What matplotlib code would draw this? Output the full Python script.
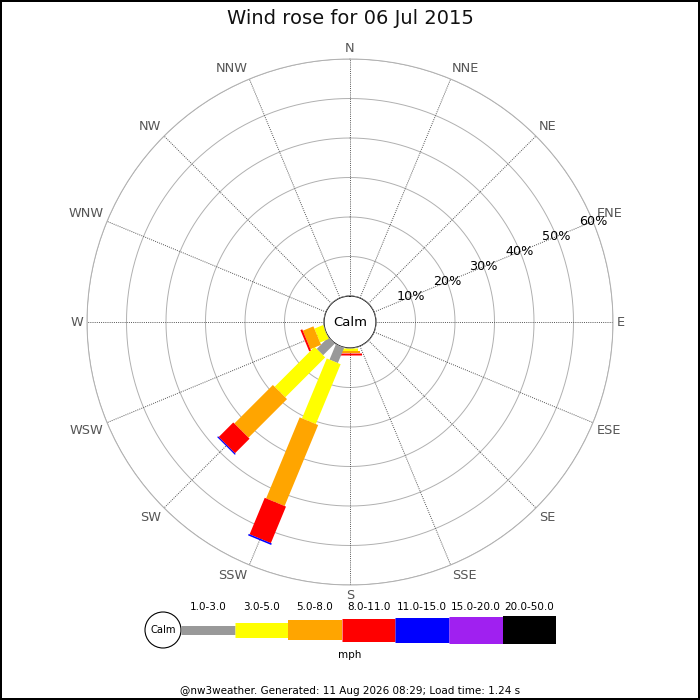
import numpy as np
import matplotlib
matplotlib.use('Agg')
import matplotlib.pyplot as plt
from matplotlib.patches import Circle

# 16 compass points, clockwise from north
directions = ['N', 'NNE', 'NE', 'ENE', 'E', 'ESE', 'SE', 'SSE',
              'S', 'SSW', 'SW', 'WSW', 'W', 'WNW', 'NW', 'NNW']
speed_bins = ['1.0-3.0', '3.0-5.0', '5.0-8.0', '8.0-11.0',
              '11.0-15.0', '15.0-20.0', '20.0-50.0']
bin_colors = ['#999999', '#ffff00', '#ffa500', '#ff0000',
              '#0000ff', '#a020f0', '#000000']
bin_widths_px = [9, 15, 20, 23, 25, 27, 28]

# percentage of time per direction, one list per speed bin
pct_1_3 = [0, 0, 0, 0, 0, 0, 0, 0, 0.0, 4.2, 4.2, 0.0, 0, 0, 0, 0]
pct_3_5 = [0, 0, 0, 0, 0, 0, 0, 0, 0.8, 16.4, 14.3, 2.4, 0, 0, 0, 0]
pct_5_8 = [0, 0, 0, 0, 0, 0, 0, 0, 0.5, 22.2, 13.8, 2.9, 0, 0, 0, 0]
pct_8_11 = [0, 0, 0, 0, 0, 0, 0, 0, 0.5, 10.0, 5.2, 0.5, 0, 0, 0, 0]
pct_11_15 = [0, 0, 0, 0, 0, 0, 0, 0, 0.0, 0.4, 0.3, 0.0, 0, 0, 0, 0]
pct_15_20 = [0] * 16
pct_20_50 = [0] * 16
ring_ticks = [10, 20, 30, 40, 50, 60]

title = 'Wind rose for 06 Jul 2015'
footer = '@nw3weather. Generated: 11 Aug 2026 08:29; Load time: 1.24 s'

W = H = 700
fig = plt.figure(figsize=(7, 7), dpi=100, edgecolor='black', linewidth=1.5)

# pixel overlay for legend / text
ov = fig.add_axes([0, 0, 1, 1])
ov.set_xlim(0, W)
ov.set_ylim(H, 0)
ov.axis('off')

# polar axes: centre (350, 322), outer radius 263 px, calm radius 26 px
cx, cy, R, calm_r = 350, 322, 263, 26
ax = fig.add_axes([(cx - R) / W, (H - cy - R) / H, 2 * R / W, 2 * R / H],
                  projection='polar')
ax.set_theta_zero_location('N')
ax.set_theta_direction(-1)
rmax = ring_ticks[-1]
ax.set_ylim(0, rmax)
ax.set_rorigin(-calm_r / (R - calm_r) * rmax)
ax.set_facecolor('none')
ax.spines['polar'].set_color('#b0b0b0')
ax.spines['polar'].set_linewidth(0.7)
ax.grid(False)
ax.set_xticks([])
ax.set_yticks([])

thetas = np.deg2rad(np.arange(16) * 22.5)
full = np.linspace(0, 2 * np.pi, 361)

# rings
for r in ring_ticks:
    ax.plot(full, np.full_like(full, r), color='#b0b0b0', lw=0.7, zorder=1)
# spokes
for th in thetas:
    ax.plot([th, th], [0, rmax], color='#555555', lw=0.7,
            linestyle=(0, (1, 1.2)), zorder=1)

# stacked bars as thick butt-capped lines
bins = [pct_1_3, pct_3_5, pct_5_8, pct_8_11, pct_11_15, pct_15_20, pct_20_50]
px2pt = 72 / fig.dpi
for d, th in enumerate(thetas):
    base = 0.0
    for b, vals in enumerate(bins):
        v = vals[d]
        if v <= 0:
            continue
        ax.plot([th, th], [base, base + v], color=bin_colors[b],
                lw=bin_widths_px[b] * px2pt, solid_capstyle='butt', zorder=3)
        base += v

# calm circle
ax.plot(full, np.zeros_like(full), color='#aaaaaa', lw=0.8, zorder=4)
ax.text(0.5, 0.5, 'Calm', transform=ax.transAxes, ha='center', va='center',
        fontsize=9.5, color='black', zorder=5)

# ring labels along ENE
lab_th = np.deg2rad(67.5)
for r in ring_ticks:
    ax.text(lab_th, r, f'{r}%', ha='center', va='center', fontsize=9.2,
            color='black', zorder=5)

# direction labels
lab_r = rmax + 4 / (R - calm_r) * rmax
for name, th in zip(directions, thetas):
    s, c = np.sin(th), np.cos(th)
    ha = 'left' if s > 0.1 else ('right' if s < -0.1 else 'center')
    va = 'bottom' if c > 0.1 else ('top' if c < -0.1 else 'center')
    ax.text(th, lab_r, name, ha=ha, va=va, fontsize=9.3, color='#555555',
            clip_on=False)

# title and footer
ov.text(350, 18, title, ha='center', va='center', fontsize=14, color='#111111')
ov.text(350, 691, footer, ha='center', va='center', fontsize=7.5, color='black')

# legend
leg_x0, leg_w, leg_y = 181, 53.6, 630
ov.add_patch(Circle((163, leg_y), 18, facecolor='white', edgecolor='black', lw=0.8))
ov.text(163, leg_y, 'Calm', ha='center', va='center', fontsize=7.2)
for i, lab in enumerate(speed_bins):
    x0 = leg_x0 + i * leg_w
    ov.plot([x0, x0 + leg_w], [leg_y, leg_y], color=bin_colors[i],
            lw=bin_widths_px[i] * px2pt, solid_capstyle='butt')
    ov.text(x0 + leg_w / 2, 607, lab, ha='center', va='center', fontsize=7.5)
ov.text(350, 655, 'mph', ha='center', va='center', fontsize=7.5)

fig.savefig('out.png', dpi=100)
